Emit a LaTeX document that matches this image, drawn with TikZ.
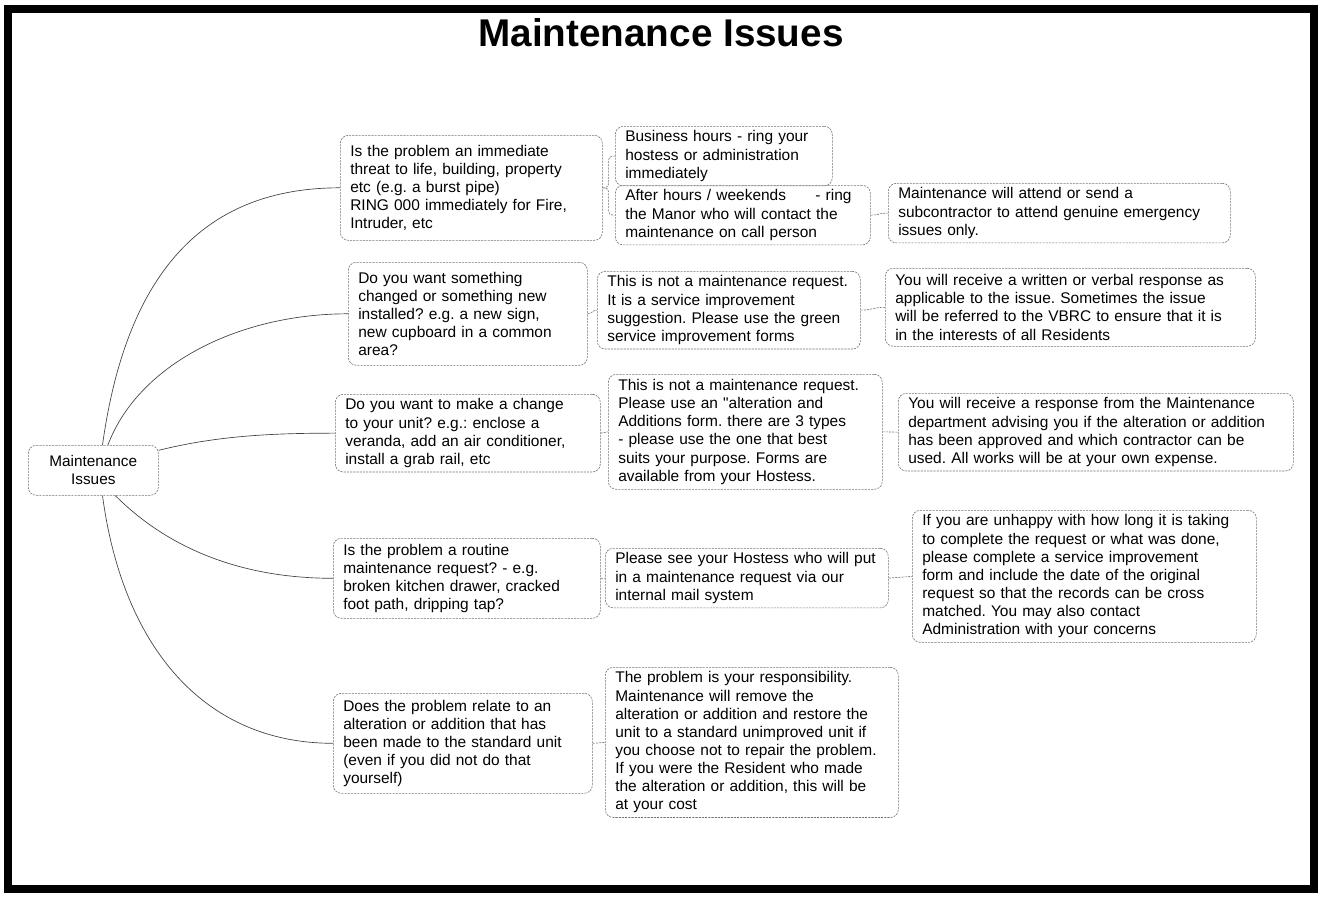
\documentclass[tikz,border=0pt]{standalone}
\usepackage{fontspec}
\setmainfont{Liberation Sans}[Ligatures=TeXOff]
\frenchspacing
\begin{document}
\begin{tikzpicture}[x=0.75pt,y=0.75pt,yscale=-1,xscale=1,
  box/.style={draw=black!55, line width=0.45pt, dash pattern={on 1.6pt off 0.8pt}, rounded corners=6pt, anchor=north west, align=left, inner xsep=7.5pt, font=\fontsize{11.6}{13.6}\selectfont},
  branch/.style={draw=black!75, line width=0.5pt},
  link/.style={draw=black!55, line width=0.45pt, dash pattern={on 1.6pt off 0.8pt}, rounded corners=3pt}]
\useasboundingbox (0,0) rectangle (1322,900);

%Frame
\draw [line width=6pt] (8,9) rectangle (1314,889);

% Title
\node (title) at (661,33) {\fontsize{29}{34}\selectfont\bfseries Maintenance Issues};

% Centre node
\node [box, align=center, text width=82.5pt, minimum height=37.5pt, font=\fontsize{11.5}{13.5}\selectfont] (root) at (28,445) {Maintenance\\Issues};

% Questions
\node [box, text width=181.5pt, minimum height=78.75pt] (threat) at (340,135) {Is the problem an immediate\\threat to life, building, property\\etc (e.g. a burst pipe)\\RING 000 immediately for Fire,\\Intruder, etc};
\node [box, text width=164.25pt, minimum height=77.25pt] (change) at (348,262) {Do you want something\\changed or something new\\installed? e.g. a new sign,\\new cupboard in a common\\area?};
\node [box, text width=183.75pt, minimum height=55.5pt] (unit) at (335,394) {Do you want to make a change\\to your unit? e.g.: enclose a\\veranda, add an air conditioner,\\install a grab rail, etc};
\node [box, text width=185.25pt, minimum height=60pt] (routine) at (333,538) {Is the problem a routine\\maintenance request? - e.g.\\broken kitchen drawer, cracked\\foot path, dripping tap?};
\node [box, text width=179.25pt, minimum height=75pt] (altered) at (333,693) {Does the problem relate to an\\alteration or addition that has\\been made to the standard unit\\(even if you did not do that\\yourself)};

% Answers
\node [box, text width=147.75pt, minimum height=41.25pt] (business) at (615,126) {Business hours - ring your\\hostess or administration\\immediately};
\node [box, text width=176.25pt, minimum height=43.5pt] (afterhours) at (615,185) {After hours / weekends\hspace{22pt}- ring\\the Manor who will contact the\\maintenance on call person};
\node [box, text width=241.5pt, minimum height=43.5pt] (attend) at (888,183) {Maintenance will attend or send a\\subcontractor to attend genuine emergency\\issues only.};
\node [box, text width=182.25pt, minimum height=57pt] (improve) at (597,271) {This is not a maintenance request.\\It is a service improvement\\suggestion. Please use the green\\service improvement forms};
\node [box, text width=262.5pt, minimum height=58.5pt] (response) at (885,268) {You will receive a written or verbal response as\\applicable to the issue. Sometimes the issue\\will be referred to the VBRC to ensure that it is\\in the interests of all Residents};
\node [box, text width=190.5pt, minimum height=86.25pt] (alterform) at (608,374) {This is not a maintenance request.\\Please use an "alteration and\\Additions form. there are 3 types\\- please use the one that best\\suits your purpose. Forms are\\available from your Hostess.};
\node [box, text width=281.25pt, minimum height=57.75pt] (approval) at (898,393) {You will receive a response from the Maintenance\\department advising you if the alteration or addition\\has been approved and which contractor can be\\used. All works will be at your own expense.};
\node [box, text width=197.25pt, minimum height=42.75pt] (hostess) at (605,548) {Please see your Hostess who will put\\in a maintenance request via our\\internal mail system};
\node [box, text width=243pt, minimum height=96.75pt] (unhappy) at (912,510) {If you are unhappy with how long it is taking\\to complete the request or what was done,\\please complete a service improvement\\form and include the date of the original\\request so that the records can be cross\\matched. You may also contact\\Administration with your concerns};
\node [box, text width=204.75pt, minimum height=108.75pt] (cost) at (605,667) {The problem is your responsibility.\\Maintenance will remove the\\alteration or addition and restore the\\unit to a standard unimproved unit if\\you choose not to repair the problem.\\If you were the Resident who made\\the alteration or addition, this will be\\at your cost};

% Branches from the centre
\draw [branch] (root.70) .. controls +(25,-180) and +(-130,0) .. (threat.west);
\draw [branch] (root.60) .. controls +(30,-80) and +(-110,0) .. (change.west);
\draw [branch] (root.17) .. controls +(60,-15) and +(-60,0) .. (unit.west);
\draw [branch] (root.-49) .. controls +(40,40) and +(-110,0) .. (routine.west);
\draw [branch] (root.-70) .. controls +(20,150) and +(-130,0) .. (altered.west);

% Links between boxes
\draw [link] (threat.east) -- ++(6,0) |- (business.west);
\draw [link] (threat.east) -- ++(6,0) |- (afterhours.west);
\draw [link] (afterhours.east) .. controls +(9,0) and +(-9,0) .. (attend.west);
\draw [link] (change.east) .. controls +(5,0) and +(-5,0) .. (improve.west);
\draw [link] (improve.east) .. controls +(12,0) and +(-12,0) .. (response.west);
\draw [link] (unit.east) .. controls +(4,0) and +(-4,0) .. (alterform.west);
\draw [link] (alterform.east) .. controls +(8,0) and +(-8,0) .. (approval.west);
\draw [link] (routine.east) .. controls +(3,0) and +(-3,0) .. (hostess.west);
\draw [link] (hostess.east) .. controls +(12,0) and +(-12,0) .. (unhappy.west);
\draw [link] (altered.east) .. controls +(6,0) and +(-6,0) .. (cost.west);
\end{tikzpicture}
\end{document}
